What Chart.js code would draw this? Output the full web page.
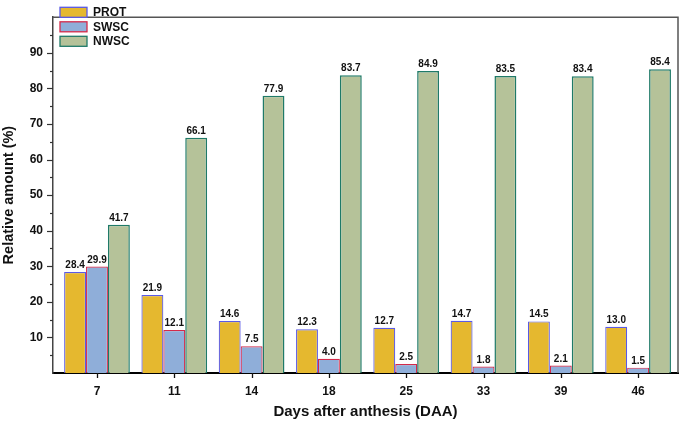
<!DOCTYPE html>
<html>
<head>
<meta charset="utf-8">
<script src="https://cdn.jsdelivr.net/npm/chart.js@4.4.1/dist/chart.umd.min.js"></script>
<style>
  html, body { margin: 0; padding: 0; background: #fff; }
  #wrap { width: 685px; height: 423px; position: relative; }
</style>
</head>
<body>
<div id="wrap"><canvas id="c" width="685" height="423"></canvas></div>
<script>
const categories = ['7', '11', '14', '18', '25', '33', '39', '46'];
const protValues = [28.4, 21.9, 14.6, 12.3, 12.7, 14.7, 14.5, 13.0];
const swscValues = [29.9, 12.1, 7.5, 4.0, 2.5, 1.8, 2.1, 1.5];
const nwscValues = [41.7, 66.1, 77.9, 83.7, 84.9, 83.5, 83.4, 85.4];
const yTickValues = [10, 20, 30, 40, 50, 60, 70, 80, 90];
const seriesNames = ['PROT', 'SWSC', 'NWSC'];

const FONT = '"Liberation Sans", Arial, Helvetica, sans-serif';

function toPoints(vals) { return vals.map((v, i) => ({ x: i, y: v })); }

const styles = [
  { bg: '#E5B82F', border: '#5a5ae6', bw: 1.2 },
  { bg: '#8FAED9', border: '#d42a4a', bw: 1.2 },
  { bg: '#B5C299', border: '#1f7a68', bw: 1.5 }
];
const seriesValues = [protValues, swscValues, nwscValues];

const datasets = seriesValues.map((vals, k) => ({
  label: seriesNames[k],
  data: toPoints(vals),
  backgroundColor: styles[k].bg,
  borderColor: styles[k].border,
  borderWidth: styles[k].bw,
  borderSkipped: 'start',
  barPercentage: 1.0,
  categoryPercentage: 0.85
}));

const decorPlugin = {
  id: 'decor',
  afterDraw(chart) {
    const ctx = chart.ctx;
    const ca = chart.chartArea;
    const xs = chart.scales.x, ys = chart.scales.y;
    ctx.save();
    // frame top/right
    ctx.strokeStyle = '#555';
    ctx.lineWidth = 1.5;
    ctx.beginPath();
    ctx.moveTo(ca.left, ca.top);
    ctx.lineTo(ca.right, ca.top);
    ctx.lineTo(ca.right, ca.bottom);
    ctx.stroke();
    // y ticks major/minor
    ctx.strokeStyle = '#333';
    ctx.lineWidth = 1.2;
    for (let v = 5; v < 100; v += 5) {
      const py = Math.round(ys.getPixelForValue(v)) + 0.5;
      const len = (v % 10 === 0) ? 6 : 3;
      ctx.beginPath();
      ctx.moveTo(ca.left - len, py);
      ctx.lineTo(ca.left, py);
      ctx.stroke();
    }
    // x ticks
    ctx.strokeStyle = '#111';
    ctx.lineWidth = 1.3;
    categories.forEach((c, i) => {
      const px = Math.round(xs.getPixelForValue(i)) + 0.5;
      ctx.beginPath();
      ctx.moveTo(px, ca.bottom);
      ctx.lineTo(px, ca.bottom + 5);
      ctx.stroke();
    });
    // value labels
    ctx.fillStyle = '#111';
    ctx.font = 'bold 10px ' + FONT;
    ctx.textAlign = 'center';
    ctx.textBaseline = 'alphabetic';
    chart.data.datasets.forEach((ds, di) => {
      const meta = chart.getDatasetMeta(di);
      meta.data.forEach((bar, i) => {
        ctx.fillText(seriesValues[di][i].toFixed(1), bar.x, bar.y - 4);
      });
    });
    // legend
    ctx.font = 'bold 12px ' + FONT;
    ctx.textAlign = 'left';
    ctx.textBaseline = 'middle';
    chart.data.datasets.forEach((ds, di) => {
      const cy = 12.3 + di * 14.5;
      ctx.fillStyle = ds.backgroundColor;
      ctx.fillRect(60, cy - 5, 27, 10);
      ctx.strokeStyle = ds.borderColor;
      ctx.lineWidth = 1.3;
      ctx.strokeRect(60, cy - 5, 27, 10);
      ctx.fillStyle = '#111';
      ctx.fillText(ds.label, 93, cy + 0.5);
    });
    ctx.restore();
  }
};

new Chart(document.getElementById('c'), {
  type: 'bar',
  data: { datasets },
  options: {
    responsive: false,
    animation: false,
    devicePixelRatio: 1,
    layout: { padding: { top: 2, right: 7, left: 0, bottom: 0 } },
    plugins: { legend: { display: false }, tooltip: { enabled: false } },
    scales: {
      x: {
        type: 'linear',
        min: -0.569,
        max: 7.516,
        offset: false,
        afterBuildTicks(scale) { scale.ticks = categories.map((c, i) => ({ value: i })); },
        afterFit(scale) { scale.height = 50; },
        ticks: {
          includeBounds: false,
          autoSkip: false,
          maxRotation: 0,
          padding: 11,
          color: '#111',
          font: { family: FONT, size: 12, weight: 'bold' },
          callback: (v) => categories[v]
        },
        grid: { display: true, drawOnChartArea: false, drawTicks: false },
        border: { display: true, color: '#000', width: 2 },
        title: {
          display: true,
          text: 'Days after anthesis (DAA)',
          color: '#111',
          font: { family: FONT, size: 15, weight: 'bold' },
          padding: { top: 0, bottom: 2 }
        }
      },
      y: {
        min: 0,
        max: 100,
        afterBuildTicks(scale) { scale.ticks = yTickValues.map(v => ({ value: v })); },
        afterFit(scale) { scale.width = 53; },
        ticks: {
          padding: 10,
          color: '#111',
          font: { family: FONT, size: 12, weight: 'bold' }
        },
        grid: { display: true, drawOnChartArea: false, drawTicks: false },
        border: { display: true, color: '#444', width: 1.5 },
        title: {
          display: true,
          text: 'Relative amount (%)',
          color: '#111',
          font: { family: FONT, size: 14.5, weight: 'bold' },
          padding: { top: 0, bottom: 0 }
        }
      }
    }
  },
  plugins: [decorPlugin]
});
</script>
</body>
</html>
